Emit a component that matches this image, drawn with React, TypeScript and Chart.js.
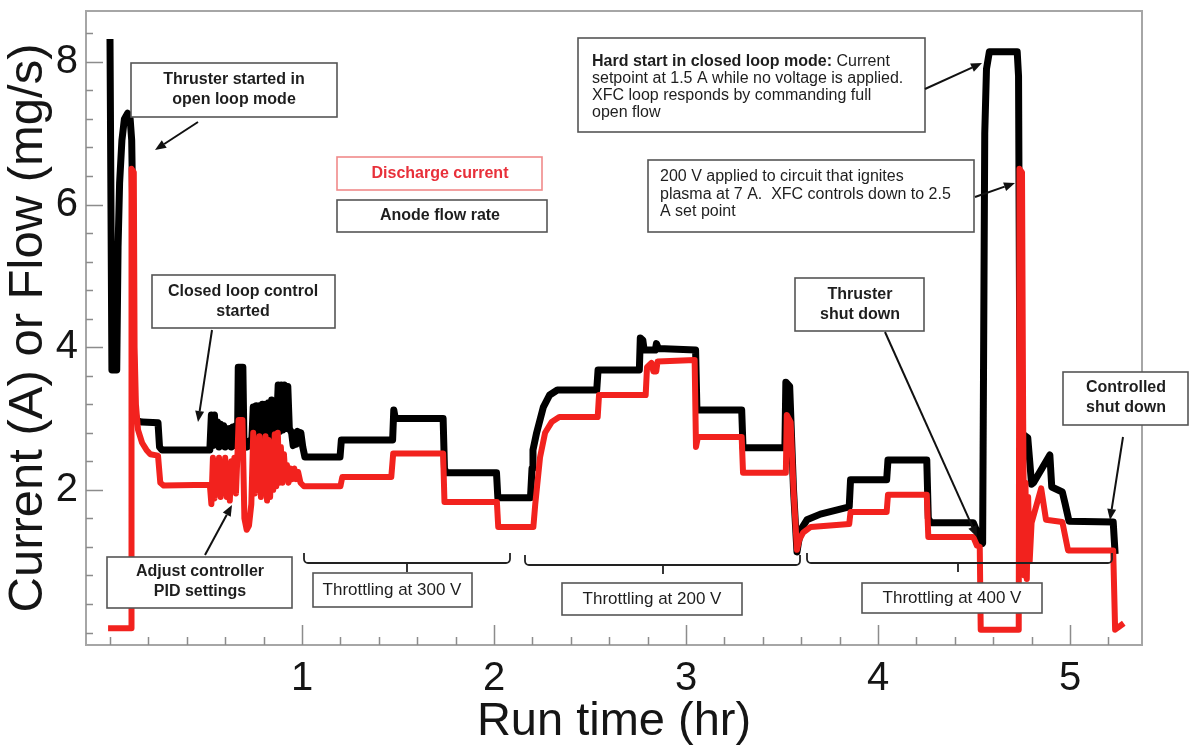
import React, { useEffect, useRef } from 'react';
import { Chart, registerables } from 'chart.js';

Chart.register(...registerables);

const FONT = '"Liberation Sans", Arial, Helvetica, sans-serif';

// ---- Anode flow rate (mg/s), black ----
const flowTime = [
  0.000, 0.010, 0.035, 0.042, 0.050, 0.062, 0.075, 0.092, 0.105, 0.113, 0.118, 0.122, 0.127, 0.138, 0.167, 0.250, 0.258, 0.270, 0.520,
  0.528, 0.536, 0.544, 0.552, 0.560, 0.568, 0.576, 0.584, 0.592, 0.600, 0.608, 0.616, 0.624, 0.632, 0.640, 0.648, 0.656, 0.664,
  0.668, 0.692, 0.698, 0.706, 0.714, 0.722, 0.730, 0.738, 0.746, 0.754, 0.762, 0.770, 0.778, 0.786, 0.794, 0.802, 0.810, 0.818,
  0.826, 0.834, 0.842, 0.850, 0.858, 0.866, 0.876, 0.884, 0.892, 0.900, 0.908, 0.916, 0.926, 0.934, 0.946, 0.954, 0.962, 0.970,
  0.978, 0.986, 0.994, 1.004, 1.015,
  1.198, 1.205, 1.472, 1.478, 1.486, 1.735, 1.742, 1.750, 2.013, 2.020, 2.190, 2.198, 2.203, 2.222, 2.257, 2.290, 2.330, 2.535,
  2.542, 2.757, 2.762, 2.775, 2.782, 2.840, 2.846, 2.856, 3.050, 3.057, 3.290, 3.297, 3.515, 3.520, 3.540, 3.560, 3.578, 3.585,
  3.600, 3.630, 3.700, 3.850, 3.857, 4.045, 4.052, 4.254, 4.262, 4.275, 4.496, 4.530, 4.545, 4.556, 4.565, 4.580, 4.725, 4.732,
  4.738, 4.745, 4.780, 4.800, 4.810, 4.895, 4.905, 4.960, 4.975, 4.995, 5.225, 5.235,
];
const flowValues = [
  8.32, 3.68, 3.68, 5.40, 6.30, 6.90, 7.20, 7.28, 7.20, 6.90, 6.00, 4.00, 3.15, 2.97, 2.95, 2.94, 2.60, 2.56, 2.56,
  3.05, 2.62, 3.05, 2.64, 2.95, 2.60, 2.92, 2.62, 2.90, 2.60, 2.86, 2.62, 2.86, 2.60, 2.88, 2.62, 2.90, 2.64,
  3.72, 3.72, 2.62, 2.66, 2.60, 2.68, 2.62, 2.66, 3.16, 2.66, 3.18, 2.68, 3.18, 2.70, 3.20, 2.72, 3.20, 2.72,
  3.22, 2.74, 3.26, 2.76, 2.74, 2.80, 3.47, 2.82, 3.47, 2.84, 3.47, 2.86, 3.45, 2.86, 2.80, 2.62, 2.80, 2.64,
  2.82, 2.66, 2.80, 2.60, 2.46,
  2.46, 2.70, 2.70, 3.12, 3.00, 3.00, 2.30, 2.24, 2.24, 1.89, 1.89, 2.30, 2.56, 2.80, 3.16, 3.33, 3.40, 3.40,
  3.68, 3.68, 4.13, 4.10, 3.96, 3.96, 4.05, 3.98, 3.96, 3.12, 3.12, 2.59, 2.59, 3.51, 3.45, 2.00, 1.13, 1.25,
  1.45, 1.58, 1.66, 1.76, 2.14, 2.14, 2.42, 2.42, 1.60, 1.54, 1.54, 1.32, 1.25, 7.00, 7.90, 8.14, 8.14, 7.80,
  4.00, 2.80, 2.73, 2.08, 2.10, 2.49, 2.04, 1.97, 1.80, 1.56, 1.55, 1.10,
];

// ---- Discharge current (A), red ----
const currentTime = [
  -0.010, 0.110, 0.112, 0.124, 0.128, 0.135, 0.146, 0.167, 0.190, 0.210, 0.250, 0.262, 0.280, 0.520,
  0.528, 0.536, 0.544, 0.552, 0.560, 0.568, 0.576, 0.584, 0.592, 0.600, 0.608, 0.616, 0.624, 0.632, 0.640, 0.648, 0.656, 0.664,
  0.670, 0.690, 0.700, 0.712, 0.724, 0.736, 0.746, 0.754, 0.762, 0.770, 0.778, 0.786, 0.794, 0.802, 0.810, 0.818, 0.826, 0.834,
  0.842, 0.850, 0.858, 0.866, 0.874, 0.882, 0.890, 0.898, 0.906, 0.914, 0.922, 0.930, 0.940, 0.950, 0.960, 0.970, 0.980, 0.992,
  1.010, 1.200, 1.210, 1.465, 1.475, 1.735, 1.742, 2.015, 2.022, 2.205, 2.215, 2.240, 2.266, 2.300, 2.340, 2.540, 2.547, 2.790,
  2.797, 2.820, 2.830, 2.845, 2.852, 3.045, 3.052, 3.062, 3.290, 3.297, 3.520, 3.525, 3.545, 3.560, 3.578, 3.590, 3.610, 3.650,
  3.850, 3.857, 4.045, 4.052, 4.254, 4.262, 4.496, 4.515, 4.530, 4.535, 4.733, 4.737, 4.750, 4.756, 4.762, 4.768, 4.775, 4.782,
  4.790, 4.800, 4.850, 4.875, 4.960, 4.990, 5.225, 5.235, 5.280,
];
const currentValues = [
  0.06, 0.06, 6.50, 6.45, 4.00, 3.20, 2.84, 2.66, 2.56, 2.50, 2.48, 2.10, 2.06, 2.07,
  1.80, 2.45, 1.88, 2.40, 1.95, 2.45, 1.90, 2.30, 2.05, 2.45, 1.90, 2.35, 1.85, 2.40, 2.00, 2.45, 1.95, 2.50,
  2.98, 2.98, 1.60, 1.44, 1.50, 1.80, 2.80, 1.95, 2.70, 2.00, 2.75, 1.90, 2.60, 2.05, 2.75, 1.85, 2.70, 1.90,
  2.50, 2.00, 2.78, 2.05, 2.80, 2.10, 2.60, 2.10, 2.50, 2.15, 2.35, 2.10, 2.30, 2.15, 2.30, 2.15, 2.25, 2.10,
  2.05, 2.05, 2.18, 2.18, 2.51, 2.51, 1.83, 1.83, 1.48, 1.48, 1.80, 2.46, 2.80, 2.95, 3.02, 3.02, 3.33, 3.33,
  3.72, 3.78, 3.66, 3.66, 3.80, 3.82, 2.60, 2.74, 2.74, 2.24, 2.24, 3.05, 2.95, 2.00, 1.16, 1.30, 1.40, 1.48,
  1.52, 1.69, 1.69, 1.93, 1.93, 1.34, 1.34, 1.22, 1.20, 0.04, 0.04, 6.50, 6.45, 3.00, 0.80, 2.10, 0.75, 1.90,
  1.00, 1.54, 2.02, 1.58, 1.55, 1.15, 1.15, 0.04, 0.13,
];

// ---- Axes ----
const xMin = -0.125;
const xMax = 5.375;
const yMin = -0.175;
const yMax = 8.713;
const xTickLabels = ['1', '2', '3', '4', '5'];
const xLabelValues = [1, 2, 3, 4, 5];
const yTickLabels = ['2', '4', '6', '8'];
const yLabelValues = [2, 4, 6, 8];
const xMinorTicks = Array.from({ length: 27 }, (_, i) => Math.round(i * 2) / 10); // 0 .. 5.2 every 0.2
const yMinorTicks = Array.from({ length: 22 }, (_, i) => Math.round(i * 4) / 10); // 0 .. 8.4 every 0.4
const xAxisTitle = 'Run time (hr)';
const yAxisTitle = 'Current (A) or Flow (mg/s)';

// ---- Annotations (layout, pixel positions on the 1190x751 canvas) ----
type Callout = {
  x1: number; y1: number; x2: number; y2: number;
  lines: string[]; bold: boolean; size: number;
  align: 'center' | 'left'; tx: number; ty: number; gap: number;
  color?: string; border?: string; boldPrefix?: string;
};

const callouts: Callout[] = [
  { x1: 131, y1: 63, x2: 337, y2: 117, lines: ['Thruster started in', 'open loop mode'], bold: true, size: 16, align: 'center', tx: 234, ty: 80, gap: 20 },
  { x1: 337, y1: 157, x2: 542, y2: 190, lines: ['Discharge current'], bold: true, size: 16, align: 'center', tx: 440, ty: 174, gap: 0, color: '#e8303a', border: '#f08a8a' },
  { x1: 337, y1: 200, x2: 547, y2: 232, lines: ['Anode flow rate'], bold: true, size: 16, align: 'center', tx: 440, ty: 216, gap: 0 },
  { x1: 152, y1: 275, x2: 335, y2: 328, lines: ['Closed loop control', 'started'], bold: true, size: 16, align: 'center', tx: 243, ty: 292, gap: 20 },
  { x1: 107, y1: 557, x2: 292, y2: 608, lines: ['Adjust controller', 'PID settings'], bold: true, size: 16, align: 'center', tx: 200, ty: 572, gap: 20 },
  { x1: 313, y1: 573, x2: 472, y2: 607, lines: ['Throttling at 300 V'], bold: false, size: 17, align: 'center', tx: 392, ty: 590, gap: 0 },
  { x1: 562, y1: 583, x2: 742, y2: 615, lines: ['Throttling at 200 V'], bold: false, size: 17, align: 'center', tx: 652, ty: 599, gap: 0 },
  { x1: 862, y1: 583, x2: 1042, y2: 613, lines: ['Throttling at 400 V'], bold: false, size: 17, align: 'center', tx: 952, ty: 598, gap: 0 },
  {
    x1: 578, y1: 38, x2: 925, y2: 132,
    lines: ['Hard start in closed loop mode: Current', 'setpoint at 1.5 A while no voltage is applied.', 'XFC loop responds by commanding full', 'open flow'],
    boldPrefix: 'Hard start in closed loop mode:', bold: false, size: 16, align: 'left', tx: 592, ty: 62, gap: 17,
  },
  {
    x1: 648, y1: 160, x2: 974, y2: 232,
    lines: ['200 V applied to circuit that ignites', 'plasma at 7 A.  XFC controls down to 2.5', 'A set point'],
    bold: false, size: 16, align: 'left', tx: 660, ty: 177, gap: 17.5,
  },
  { x1: 795, y1: 278, x2: 924, y2: 331, lines: ['Thruster', 'shut down'], bold: true, size: 16, align: 'center', tx: 860, ty: 295, gap: 20 },
  { x1: 1063, y1: 372, x2: 1188, y2: 425, lines: ['Controlled', 'shut down'], bold: true, size: 16, align: 'center', tx: 1126, ty: 388, gap: 20 },
];

const arrows: [number, number, number, number][] = [
  [198, 122, 155, 150],
  [212, 330, 198, 422],
  [205, 555, 232, 505],
  [925, 89, 982, 63],
  [975, 197, 1015, 183],
  [885, 332, 977, 537],
  [1123, 437, 1110, 520],
];

const brackets = [
  { l: 304, r: 510, y: 563, top: 553, c: 407 },
  { l: 525, r: 800, y: 565, top: 555, c: 663 },
  { l: 807, r: 1112, y: 563, top: 553, c: 958 },
];

const overlayPlugin = {
  id: 'overlay',
  afterDatasetsDraw(chart: any) {
    const { ctx, chartArea, scales } = chart;
    const { left, right, top, bottom } = chartArea;
    const xs = scales.x;
    const ys = scales.y;
    ctx.save();

    // frame
    ctx.strokeStyle = '#a6a6a6';
    ctx.lineWidth = 2;
    ctx.strokeRect(left, top, right - left, bottom - top);

    // inward tick marks
    ctx.strokeStyle = '#8c8c8c';
    ctx.lineWidth = 1.5;
    ctx.beginPath();
    xMinorTicks.forEach((v) => {
      const px = Math.round(xs.getPixelForValue(v)) + 0.5;
      const len = xLabelValues.includes(v) ? 20 : 8;
      ctx.moveTo(px, bottom);
      ctx.lineTo(px, bottom - len);
    });
    yMinorTicks.forEach((v) => {
      const py = Math.round(ys.getPixelForValue(v)) + 0.5;
      const len = yLabelValues.includes(v) ? 17 : 7;
      ctx.moveTo(left, py);
      ctx.lineTo(left + len, py);
    });
    ctx.stroke();

    // brackets
    ctx.strokeStyle = '#222';
    ctx.lineWidth = 1.8;
    brackets.forEach((b) => {
      ctx.beginPath();
      ctx.moveTo(b.l, b.top);
      ctx.arcTo(b.l, b.y, b.l + 5, b.y, 4);
      ctx.lineTo(b.r - 5, b.y);
      ctx.arcTo(b.r, b.y, b.r, b.top, 4);
      ctx.lineTo(b.r, b.top);
      ctx.moveTo(b.c, b.y);
      ctx.lineTo(b.c, b.y + 9);
      ctx.stroke();
    });

    // callout boxes and text
    callouts.forEach((c) => {
      ctx.fillStyle = '#fff';
      ctx.fillRect(c.x1, c.y1, c.x2 - c.x1, c.y2 - c.y1);
      ctx.strokeStyle = c.border || '#555';
      ctx.lineWidth = 1.6;
      ctx.strokeRect(c.x1, c.y1, c.x2 - c.x1, c.y2 - c.y1);
      ctx.fillStyle = c.color || '#1e1e1e';
      ctx.textBaseline = 'middle';
      ctx.textAlign = c.align;
      c.lines.forEach((line, i) => {
        const ly = c.ty + i * c.gap;
        if (i === 0 && c.boldPrefix && line.startsWith(c.boldPrefix)) {
          ctx.textAlign = 'left';
          ctx.font = `bold ${c.size}px ${FONT}`;
          ctx.fillText(c.boldPrefix, c.tx, ly);
          const w = ctx.measureText(c.boldPrefix).width;
          ctx.font = `${c.size}px ${FONT}`;
          ctx.fillText(line.slice(c.boldPrefix.length), c.tx + w, ly);
        } else {
          ctx.font = `${c.bold ? 'bold ' : ''}${c.size}px ${FONT}`;
          ctx.fillText(line, c.tx, ly);
        }
      });
    });

    // arrows
    ctx.strokeStyle = '#111';
    ctx.fillStyle = '#111';
    ctx.lineWidth = 2;
    arrows.forEach(([x1, y1, x2, y2]) => {
      const ang = Math.atan2(y2 - y1, x2 - x1);
      const hl = 11;
      const hw = 4.5;
      const bx = x2 - hl * Math.cos(ang);
      const by = y2 - hl * Math.sin(ang);
      ctx.beginPath();
      ctx.moveTo(x1, y1);
      ctx.lineTo(bx, by);
      ctx.stroke();
      ctx.beginPath();
      ctx.moveTo(x2, y2);
      ctx.lineTo(bx + hw * Math.sin(ang), by - hw * Math.cos(ang));
      ctx.lineTo(bx - hw * Math.sin(ang), by + hw * Math.cos(ang));
      ctx.closePath();
      ctx.fill();
    });

    ctx.restore();
  },
};

export default function App() {
  const canvasRef = useRef<HTMLCanvasElement | null>(null);

  useEffect(() => {
    document.body.style.margin = '0';
    const canvas = canvasRef.current;
    if (!canvas) return;

    const flowData = flowTime.map((x, i) => ({ x, y: flowValues[i] }));
    const currentData = currentTime.map((x, i) => ({ x, y: currentValues[i] }));

    const chart = new Chart(canvas, {
      type: 'line',
      data: {
        datasets: [
          {
            label: 'Discharge current',
            data: currentData,
            borderColor: '#f2221e',
            borderWidth: 6,
            pointRadius: 0,
            tension: 0,
            fill: false,
            borderJoinStyle: 'round',
            order: 0,
          },
          {
            label: 'Anode flow rate',
            data: flowData,
            borderColor: '#000000',
            borderWidth: 7,
            pointRadius: 0,
            tension: 0,
            fill: false,
            borderJoinStyle: 'round',
            order: 1,
          },
        ],
      },
      options: {
        animation: false,
        responsive: false,
        devicePixelRatio: 1,
        layout: { padding: { left: 0, right: 48, top: 11, bottom: 0 } },
        plugins: {
          legend: { display: false },
          tooltip: { enabled: false },
        },
        scales: {
          x: {
            type: 'linear',
            min: xMin,
            max: xMax,
            grid: { display: false, drawTicks: false },
            border: { display: false },
            afterBuildTicks: (s: any) => {
              s.ticks = xMinorTicks.map((v) => ({ value: v }));
            },
            afterFit: (s: any) => {
              s.height = 106;
              s.paddingLeft = 0;
              s.paddingRight = 0;
            },
            ticks: {
              autoSkip: false,
              maxRotation: 0,
              padding: 10,
              color: '#151515',
              font: { family: FONT, size: 40 },
              callback: (value: any) => {
                const i = xLabelValues.indexOf(Math.round(Number(value) * 10) / 10);
                return i >= 0 ? xTickLabels[i] : null;
              },
            },
            title: {
              display: true,
              text: xAxisTitle,
              color: '#151515',
              font: { family: FONT, size: 47, lineHeight: 1.2 },
              padding: { top: 0, bottom: 1 },
            },
          },
          y: {
            type: 'linear',
            min: yMin,
            max: yMax,
            grid: { display: false, drawTicks: false },
            border: { display: false },
            afterBuildTicks: (s: any) => {
              s.ticks = yMinorTicks.map((v) => ({ value: v }));
            },
            afterFit: (s: any) => {
              s.width = 86;
              s.paddingTop = 0;
              s.paddingBottom = 0;
            },
            ticks: {
              autoSkip: false,
              padding: 8,
              color: '#151515',
              font: { family: FONT, size: 40 },
              callback: (value: any) => {
                const i = yLabelValues.indexOf(Math.round(Number(value) * 10) / 10);
                return i >= 0 ? yTickLabels[i] : null;
              },
            },
            title: {
              display: true,
              text: yAxisTitle,
              color: '#151515',
              font: { family: FONT, size: 49, lineHeight: 1.15 },
              padding: { top: 0, bottom: 0 },
            },
          },
        },
      },
      plugins: [overlayPlugin],
    } as any);

    return () => chart.destroy();
  }, []);

  return (
    <div style={{ width: 1190, height: 751, position: 'relative', background: '#fff' }}>
      <canvas ref={canvasRef} width={1190} height={751} style={{ display: 'block' }} />
    </div>
  );
}
